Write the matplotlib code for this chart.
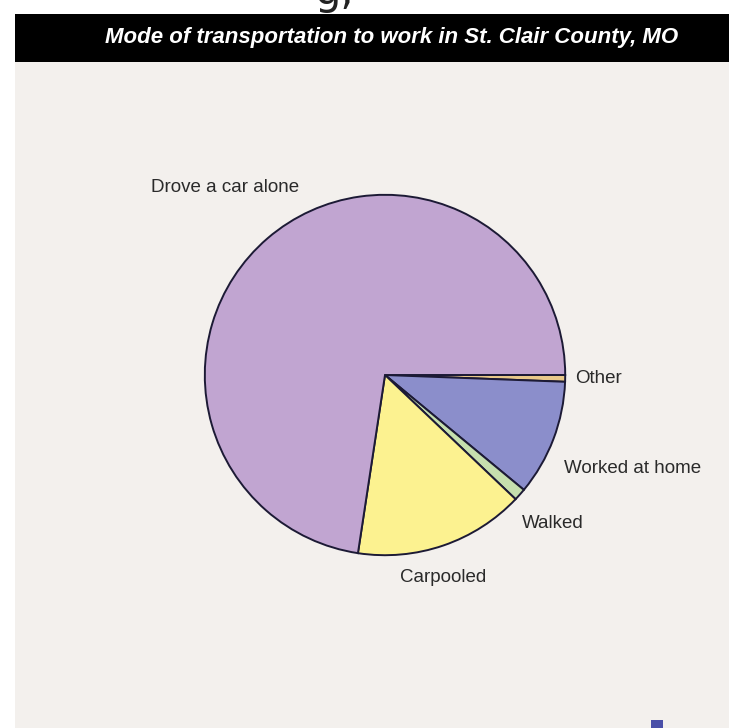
import matplotlib.pyplot as plt
from matplotlib.patches import Rectangle

# slices clockwise from 3 o'clock
modes = ["Other", "Worked at home", "Walked", "Carpooled", "Drove a car alone"]
shares = [0.6, 10.4, 1.1, 15.3, 72.6]
colors = ["#e9c98a", "#8b8ecb", "#c6dfae", "#fcf290", "#c1a5d1"]

# label spots in pixels (x, y from top)
label_pos = {
    "Drove a car alone": (225, 188),
    "Other": (598, 378),
    "Worked at home": (633, 468),
    "Walked": (553, 523),
    "Carpooled": (443, 578),
}

W, H = 729, 728
fig = plt.figure(figsize=(W / 100, H / 100), dpi=100)
fig.patch.set_facecolor("white")

# beige panel and black title bar
fig.patches.append(Rectangle((15 / W, 0), 1, 1 - 62 / H, transform=fig.transFigure,
                             facecolor="#f3f0ed", edgecolor="none", zorder=-10))
fig.patches.append(Rectangle((15 / W, 1 - 62 / H), 1, 48 / H, transform=fig.transFigure,
                             facecolor="black", edgecolor="none", zorder=-10))
fig.text(392 / W, 1 - 38 / H, "Mode of transportation to work in St. Clair County, MO",
         color="white", fontsize=16, fontweight="bold", fontstyle="italic",
         family="Liberation Sans", ha="center", va="center")
# cut-off heading above the chart
fig.text(335 / W, 1 + 8 / H, "g,", color="#222222", fontsize=30, ha="center", va="center")

cx, cy, r = 385, 375, 182
ax = fig.add_axes([(cx - r) / W, 1 - (cy + r) / H, 2 * r / W, 2 * r / H])
ax.pie(shares, colors=colors, startangle=0, counterclock=False,
       wedgeprops=dict(edgecolor="#1c1a35", linewidth=1.4))
ax.set_xlim(-1.01, 1.01)
ax.set_ylim(-1.01, 1.01)
ax.set_aspect("equal")
ax.axis("off")

for m in modes:
    px, py = label_pos[m]
    fig.text(px / W, 1 - py / H, m, fontsize=13.5, color="#2a2a2a",
             family="Liberation Sans", ha="center", va="center")

# small logo in the corner
fig.patches.append(Rectangle((651 / W, 0), 12 / W, 8 / H, transform=fig.transFigure,
                             facecolor="#4a4fa8", edgecolor="none"))

fig.savefig("out.png", dpi=100)
